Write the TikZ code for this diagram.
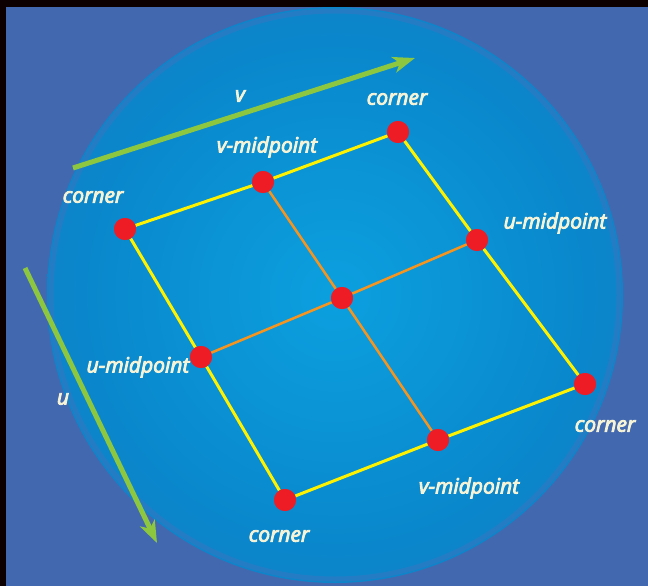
\documentclass[tikz,border=0pt]{standalone}
\usepackage{fontspec}
\newfontfamily\lab{Open Sans}[ItalicFeatures={FakeBold=4}]
\usetikzlibrary{arrows.meta}
\definecolor{bgblue}{HTML}{4268B0}
\definecolor{cA}{HTML}{0BA0DF}
\definecolor{cB}{HTML}{0A87CC}
\definecolor{cC}{HTML}{2270BA}
\definecolor{ringc}{HTML}{3479C0}
\definecolor{dotred}{HTML}{EE1C25}
\definecolor{edgey}{HTML}{FFF200}
\definecolor{inner}{HTML}{F7941D}
\definecolor{arrg}{HTML}{8DC63F}
\definecolor{txt}{HTML}{F6F3D6}
\pgfdeclareradialshading{glow}{\pgfpoint{0bp}{0bp}}{color(0bp)=(cA); color(22bp)=(cB); color(50bp)=(cC)}
\tikzset{
  dot/.style={circle, fill=dotred, minimum size=22pt, inner sep=0pt},
  edge/.style={draw=edgey, line width=3pt},
  midline/.style={draw=inner, line width=2.5pt},
  lbl/.style={text=txt, font=\lab\itshape\fontsize{21}{24}\selectfont, inner sep=0pt},
  axis/.style={draw=arrg, line width=5pt, -{Stealth[length=22pt,width=16pt,inset=6pt]}}
}
\begin{document}
\begin{tikzpicture}[x=1pt,y=-1pt]
\useasboundingbox (0,0) rectangle (648,586);
\fill[black!95!red] (0,0) rectangle (648,586);
\fill[bgblue] (6,7) rectangle (648,586);
\shade[shading=glow] (335,295) circle (288);
\draw[ringc, line width=5pt, opacity=0.6] (335,295) circle (284);
% axes
\coordinate (v0) at (73,168);
\coordinate (v1) at (415,58);
\coordinate (u0) at (25,268);
\coordinate (u1) at (157,543);
\draw[axis] (v0) -- (v1);
\draw[axis] (u0) -- (u1);
% points
\node[dot] (c1) at (125,229) {};
\node[dot] (vm1) at (263,182) {};
\node[dot] (c2) at (398,132) {};
\node[dot] (um2) at (477,240) {};
\node[dot] (c3) at (585,384) {};
\node[dot] (vm2) at (438,440) {};
\node[dot] (c4) at (285,500) {};
\node[dot] (um1) at (201,357) {};
\node[dot] (mid) at (342,298) {};
% lines drawn, then dots redrawn on top
\path[edge] (c1) -- (vm1) -- (c2) -- (um2) -- (c3) -- (vm2) -- (c4) -- (um1) -- (c1);
\path[midline] (vm1) -- (mid) -- (vm2);
\path[midline] (um1) -- (mid) -- (um2);
\foreach \p in {c1,vm1,c2,um2,c3,vm2,c4,um1,mid}{\fill[dotred] (\p) circle (11);}
% labels
\node[lbl] (lc1) at (93,197) {corner};
\node[lbl] (lvm1) at (267,147) {v-midpoint};
\node[lbl] (lc2) at (397,99) {corner};
\node[lbl] (lum2) at (555,223) {u-midpoint};
\node[lbl] (lc3) at (605,426) {corner};
\node[lbl] (lvm2) at (469,488) {v-midpoint};
\node[lbl] (lc4) at (279,536) {corner};
\node[lbl] (lum1) at (138,367) {u-midpoint};
\node[lbl] (lv) at (240,96) {v};
\node[lbl] (lu) at (63,399) {u};
\end{tikzpicture}
\end{document}
